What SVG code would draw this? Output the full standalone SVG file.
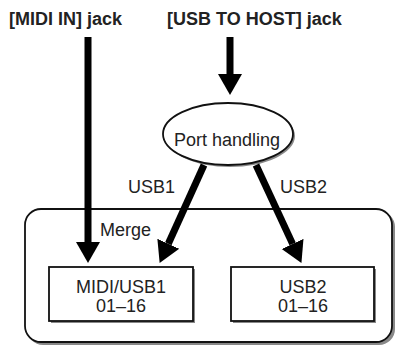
<svg xmlns="http://www.w3.org/2000/svg" width="397" height="347" viewBox="0 0 397 347">
<style>
text{font-family:"Liberation Sans",Arial,sans-serif;font-size:18px;fill:#222;}
.title{font-weight:bold;}
.shape{fill:#fff;stroke:#111;stroke-width:1.8;}
.shadow{fill:#888;stroke:none;}
.arrow{stroke:#000;stroke-width:7;fill:none;marker-end:url(#head);}
</style>
<defs>
<marker id="head" markerUnits="userSpaceOnUse" markerWidth="22" markerHeight="26" refX="0" refY="12" orient="auto" viewBox="0 0 22 24">
<path d="M0,0 L21,12 L0,24 z" fill="#000"/>
</marker>
</defs>
<g id="merge">
<rect class="shadow" x="27" y="211" width="368" height="134" rx="16"/>
<rect class="shape" x="25" y="209" width="367" height="133" rx="16"/>
<text x="100" y="236">Merge</text>
</g>
<g id="title-midi">
<text class="title" x="9" y="25">[MIDI IN] jack</text>
</g>
<g id="title-usb">
<text class="title" x="167" y="25">[USB TO HOST] jack</text>
</g>
<g id="port">
<ellipse class="shadow" cx="230" cy="136" rx="65" ry="31"/>
<ellipse class="shape" cx="228" cy="134" rx="65" ry="31"/>
<text x="227" y="146" text-anchor="middle">Port handling</text>
</g>
<g id="midiusb1">
<rect class="shadow" x="51" y="269" width="144" height="54"/>
<rect class="shape" x="49" y="267" width="144" height="54"/>
<text x="121" y="293" text-anchor="middle">MIDI/USB1</text>
<text x="121" y="312" text-anchor="middle">01–16</text>
</g>
<g id="usb2">
<rect class="shadow" x="233" y="269" width="143" height="54"/>
<rect class="shape" x="231" y="267" width="143" height="54"/>
<text x="303" y="293" text-anchor="middle">USB2</text>
<text x="303" y="312" text-anchor="middle">01–16</text>
</g>
<g id="connectors">
<line class="arrow" x1="88" y1="37" x2="88" y2="242"/>
<line class="arrow" x1="230" y1="37" x2="230" y2="74"/>
<line class="arrow" x1="204" y1="165" x2="168.3" y2="243.8"/>
<line class="arrow" x1="256" y1="165" x2="292.6" y2="243.9"/>
<text x="128" y="193">USB1</text>
<text x="280" y="193">USB2</text>
</g>
</svg>
